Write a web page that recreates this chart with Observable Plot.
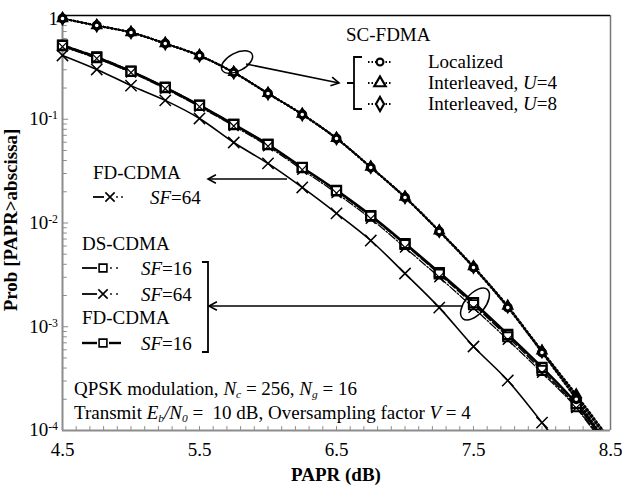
<!DOCTYPE html>
<html><head><meta charset="utf-8">
<script src="https://cdn.jsdelivr.net/npm/d3@7"></script>
<script src="https://cdn.jsdelivr.net/npm/@observablehq/plot@0.6"></script>
<style>
body{margin:0;background:#fff}
</style>
</head><body><div id="chart"></div>
<script>
// ---- data ----
const papr = [4.5,4.75,5.0,5.25,5.5,5.75,6.0,6.25,6.5,6.75,7.0,7.25,7.5,7.75,8.0,8.25,8.5];
const scLocalized = [0.935,0.80,0.686,0.537,0.41,0.282,0.177,0.111,0.0652,0.0343,0.0176,0.00828,0.00372,0.00153,0.000565,0.000200,0.000068];
const scInterU4   = [0.935,0.80,0.686,0.537,0.41,0.283,0.178,0.112,0.0656,0.0346,0.0178,0.00840,0.00380,0.00158,0.000585,0.000222,0.000080];
const scInterU8   = [0.935,0.80,0.686,0.537,0.41,0.282,0.177,0.111,0.0654,0.0345,0.0177,0.00834,0.00376,0.00156,0.000575,0.000212,0.000075];
const dsSF16 = [0.52,0.40,0.292,0.204,0.137,0.0895,0.0572,0.0342,0.0204,0.0116,0.0062,0.00322,0.00163,0.00080,0.00038,0.000170,0.000060];
const dsSF64 = [0.50,0.385,0.282,0.197,0.132,0.086,0.0548,0.0326,0.0194,0.0110,0.0058,0.00300,0.00152,0.00075,0.00036,0.000165,0.000058];
const fdSF16 = [0.514,0.394,0.289,0.202,0.136,0.089,0.0571,0.0343,0.0206,0.0118,0.00634,0.00333,0.00171,0.000842,0.000405,0.000182,0.000065];
const fdSF64 = [0.412,0.302,0.211,0.152,0.1017,0.0597,0.0375,0.0220,0.0124,0.00678,0.00326,0.00153,0.000645,0.000303,0.000119,0.000043,0.000013];
const xTicks = [4.5,5.5,6.5,7.5,8.5];
const yTicks = [1,0.1,0.01,0.001,0.0001];
const yTickExp = ["","-1","-2","-3","-4"];
const xLabel = "PAPR (dB)";
const yLabel = "Prob [PAPR>abscissa]";

// ---- build ----
const FONT = "'Liberation Serif', 'Times New Roman', Times, serif";
const FS = 19;
const rows = vals => papr.map((x,i)=>({x, y: vals[i]}));
const pts = vals => rows(vals).filter(d => d.x <= 8.25 && d.y >= 1e-4);
const xMinor = d3.range(45,86).map(v=>v/10);
const yMinor = [];
for (let e=-4;e<0;e++) for (let k=2;k<=9;k++) yMinor.push(k*Math.pow(10,e));
const gray = "#8c8c8c";
const lineOpts = {x:"x", y:"y", stroke:"black", clip:true, curve:"monotone-x"};

const plot = Plot.plot({
  width: 622, height: 489,
  marginLeft: 62, marginRight: 12, marginTop: 15, marginBottom: 59,
  x: {domain: [4.5, 8.5]},
  y: {type: "log", domain: [1e-4, 1], axis: null},
  style: {fontFamily: FONT, fontSize: FS + "px", color: "black", background: "white"},
  marks: [
    Plot.ruleY(yMinor, {x1: 4.5, x2: 4.535, stroke: gray, strokeWidth: 1}),
    Plot.ruleY(yTicks, {x1: 4.5, x2: 4.545, stroke: gray, strokeWidth: 1}),
    Plot.ruleX(xMinor, {y1: 1e-4, y2: 1.09e-4, stroke: gray, strokeWidth: 1}),
    Plot.ruleX([8.5], {stroke: "#777", strokeWidth: 1.5}),
    Plot.ruleY([1], {stroke: "black", strokeWidth: 1.3}),
    Plot.ruleX([4.5], {stroke: gray, strokeWidth: 2}),
    Plot.ruleY([1e-4], {stroke: gray, strokeWidth: 2}),
    Plot.axisX({ticks: xTicks, tickSize: 0, tickPadding: 12, tickFormat: d => d.toFixed(1), fontSize: FS, label: null}),
    Plot.line(rows(scLocalized), {...lineOpts, strokeWidth: 2, strokeDasharray: "1.6,2.2"}),
    Plot.line(rows(scInterU4), {...lineOpts, strokeWidth: 2, strokeDasharray: "1.6,2.2"}),
    Plot.line(rows(scInterU8), {...lineOpts, strokeWidth: 2, strokeDasharray: "1.6,2.2"}),
    Plot.line(rows(fdSF64), {...lineOpts, strokeWidth: 1.6}),
    Plot.line(rows(dsSF64), {...lineOpts, strokeWidth: 1.3, strokeDasharray: "8,2,1.5,2"}),
    Plot.line(rows(dsSF16), {...lineOpts, strokeWidth: 1.5, strokeDasharray: "9,3"}),
    Plot.line(rows(fdSF16), {...lineOpts, strokeWidth: 2.6}),
    Plot.dot(pts(fdSF64), {x:"x", y:"y", symbol:"times", r:5.2, stroke:"black", strokeWidth:1.5}),
    Plot.dot(pts(dsSF64), {x:"x", y:"y", symbol:"times", r:4.6, stroke:"black", strokeWidth:1.3}),
    Plot.dot(pts(dsSF16), {x:"x", y:"y", symbol:"square", r:5.2, stroke:"black", fill:"white", strokeWidth:1.9}),
    Plot.dot(pts(fdSF16), {x:"x", y:"y", symbol:"square", r:5.2, stroke:"black", fill:"none", strokeWidth:2.1}),
    Plot.dot(pts(dsSF64), {x:"x", y:"y", symbol:"times", r:4.0, stroke:"black", strokeWidth:1.2}),
    Plot.dot(pts(scInterU8), {x:"x", y:"y", symbol:"diamond", r:3.3, stroke:"black", fill:"black", strokeWidth:2.2}),
    Plot.dot(pts(scInterU4), {x:"x", y:"y", symbol:"triangle", r:3.3, stroke:"black", fill:"black", strokeWidth:2.2}),
    Plot.dot(pts(scLocalized), {x:"x", y:"y", symbol:"circle", r:3.4, stroke:"black", fill:"white", strokeWidth:3.2})
  ]
});
document.getElementById("chart").appendChild(plot);

// ---- annotations ----
const svg = d3.select(plot);
const ys = plot.scale("y");
const ann = svg.append("g").attr("fill","black").attr("font-family", FONT).style("font-family", FONT);

function rich(x, y, parts, {anchor="start", size=FS, weight="normal"}={}) {
  const t = ann.append("text").attr("x",x).attr("y",y).attr("text-anchor",anchor)
    .attr("font-size",size).attr("font-weight",weight).style("white-space","pre").style("font-family", FONT);
  parts.forEach(p => {
    if (typeof p === "string") p = {t:p};
    const s = t.append("tspan").text(p.t);
    if (p.i) s.attr("font-style","italic");
    if (p.sub) s.attr("baseline-shift", "-3px").attr("font-size", size*0.6);
    if (p.sup) s.attr("baseline-shift","super").attr("font-size", size*0.62);
  });
  return t;
}

yTicks.forEach((v,i) => {
  const parts = i === 0 ? ["1"] : ["10", {t: yTickExp[i], sup: true}];
  rich(58, ys.apply(v), parts, {anchor: "end"}).attr("dy", i === 0 ? "0.5em" : "0.33em");
});
rich(336, 481, [xLabel], {anchor:"middle", weight:"bold"});
rich(0, 0, [yLabel], {anchor:"middle", weight:"bold"}).attr("transform","translate(17,220) rotate(-90)");

function sym(type, x, y, r, opts={}) {
  ann.append("path").attr("d", d3.symbol().type(type).size(Math.PI*r*r)())
    .attr("transform",`translate(${x},${y})`)
    .attr("fill", opts.fill ?? "white").attr("stroke","black").attr("stroke-width", opts.sw ?? 2);
}
function seg(x1,y1,x2,y2,opts={}) {
  ann.append("line").attr("x1",x1).attr("y1",y1).attr("x2",x2).attr("y2",y2)
    .attr("stroke","black").attr("stroke-width",opts.sw ?? 1.5).attr("stroke-dasharray",opts.dash ?? null);
}
function arrowHead(x,y,dir) {
  const L=9, a=0.5;
  const p1=[x - L*Math.cos(dir - a), y - L*Math.sin(dir - a)];
  const p2=[x - L*Math.cos(dir + a), y - L*Math.sin(dir + a)];
  ann.append("path").attr("d",`M${p1}L${x},${y}L${p2}`).attr("fill","none").attr("stroke","black").attr("stroke-width",1.6);
}

// SC-FDMA legend
rich(346, 41, ["SC-FDMA"]);
const scRows = [
  {y:62, type:d3.symbolCircle, r:3.4, parts:["Localized"]},
  {y:83, type:d3.symbolTriangle, r:4.2, parts:["Interleaved, ", {t:"U", i:true}, "=4"]},
  {y:104, type:d3.symbolDiamond, r:4.2, parts:["Interleaved, ", {t:"U", i:true}, "=8"]}
];
scRows.forEach(r => {
  seg(368, r.y, 392, r.y, {sw:1.8, dash:"1.5,2"});
  sym(r.type, 380, r.y, r.r, {sw:2.2});
  rich(428, r.y+6, r.parts);
});
ann.append("path").attr("d","M362,57H354V109H362M354,83H347").attr("fill","none").attr("stroke","black").attr("stroke-width",1.8);
ann.append("ellipse").attr("cx",237).attr("cy",62).attr("rx",17).attr("ry",9)
  .attr("transform","rotate(-28,237,62)").attr("fill","none").attr("stroke","black").attr("stroke-width",1.5);
seg(246, 64, 339, 83, {sw:1.6});
arrowHead(339, 83, Math.atan2(19, 93));

// FD-CDMA SF=64 legend
rich(93, 179, ["FD-CDMA"]);
seg(93, 197, 104, 197, {sw:1.8});
sym(d3.symbolTimes, 110, 197, 4.3, {sw:1.6, fill:"none"});
ann.append("circle").attr("cx",117).attr("cy",197).attr("r",0.9);
ann.append("circle").attr("cx",122).attr("cy",197).attr("r",0.9);
rich(150, 204, [{t:"SF", i:true}, "=64"]);
seg(287, 179, 208, 179, {sw:1.6});
arrowHead(208, 179, Math.PI);

// DS-CDMA / FD-CDMA SF=16 legend
rich(82, 250, ["DS-CDMA"]);
function cdmaRow(y, type, dotted, text) {
  seg(82, y, 97, y, {sw: dotted ? 1.8 : 2.4});
  if (type === d3.symbolTimes) sym(type, 103, y, 4.3, {sw:1.6, fill:"none"});
  else sym(type, 103, y, 4.4, {sw:1.6});
  if (dotted) {
    ann.append("circle").attr("cx",111).attr("cy",y).attr("r",0.9);
    ann.append("circle").attr("cx",117).attr("cy",y).attr("r",0.9);
  } else {
    seg(109, y, 121, y, {sw:2.4});
  }
  rich(141, y+7, [{t:"SF", i:true}, text]);
}
cdmaRow(268, d3.symbolSquare, true, "=16");
cdmaRow(294, d3.symbolTimes, true, "=64");
rich(82, 324, ["FD-CDMA"]);
cdmaRow(343, d3.symbolSquare, false, "=16");
ann.append("path").attr("d","M202,262H208V352H202").attr("fill","none").attr("stroke","black").attr("stroke-width",1.8);
seg(463, 306, 209, 306, {sw:1.6});
arrowHead(209, 306, Math.PI);
ann.append("ellipse").attr("cx",475).attr("cy",304).attr("rx",19).attr("ry",10)
  .attr("transform","rotate(-50,475,304)").attr("fill","none").attr("stroke","black").attr("stroke-width",1.5);

// condition note
rich(74, 395, ["QPSK modulation, ", {t:"N", i:true}, {t:"c", i:true, sub:true}, " = 256, ", {t:"N", i:true}, {t:"g", i:true, sub:true}, " = 16"], {size:FS});
rich(74, 419, ["Transmit ", {t:"E", i:true}, {t:"b", i:true, sub:true}, {t:"/N", i:true}, {t:"0", i:true, sub:true}, " =  10 dB, Oversampling factor ", {t:"V", i:true}, " = 4"], {size:FS});
</script>
</body></html>
